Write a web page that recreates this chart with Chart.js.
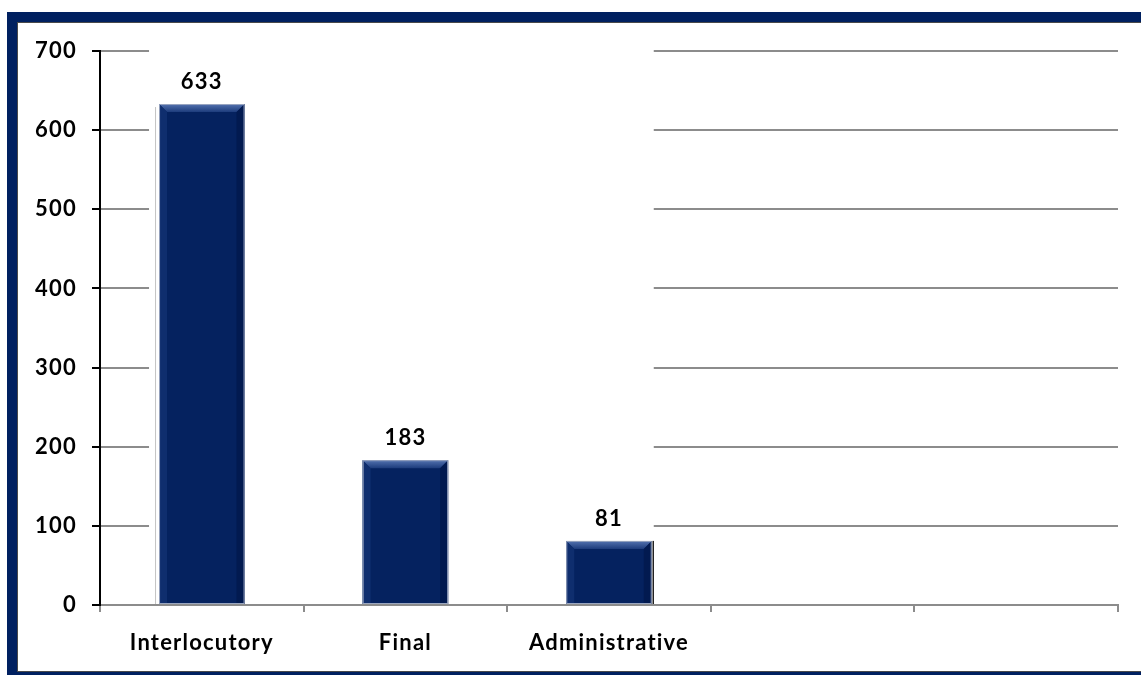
<!DOCTYPE html>
<html>
<head>
<meta charset="utf-8">
<script src="https://cdn.jsdelivr.net/npm/chart.js@4.4.1/dist/chart.umd.min.js"></script>
<style>
html,body{margin:0;padding:0;background:#fff;overflow:hidden;}
#frame{position:absolute;left:7px;top:12px;width:1200px;height:650px;border:10px solid #002060;box-shadow:inset 0 0 0 1px #4a4a4a;}
#wrap{position:absolute;left:0;top:0;width:1141px;height:675px;}
</style>
</head>
<body>
<div id="frame"></div>
<div id="wrap"><canvas id="appeals_chart"></canvas></div>
<script>
// data
var appeal_labels = ['Interlocutory', 'Final', 'Administrative', '', ''];
var appeal_values = [633, 183, 81, null, null];
var y_ticks = [0, 100, 200, 300, 400, 500, 600, 700];

var bar_color = '#05225f';
var grid_color = '#8c8c8c';

// slightly spaced lettering, like the original
var spacingPlugin = {
	id: 'spacing',
	beforeDraw: function(chart) {
		chart.ctx.letterSpacing = '1.2px';
	}
};

// hides the grid behind the bars, like the original
var coverPlugin = {
	id: 'cover',
	beforeDatasetsDraw: function(chart) {
		var bars = chart.getDatasetMeta(0).data.filter(function(b, i) {
			return appeal_values[i] != null;
		});
		if (!bars.length) return;
		var first = bars[0], last = bars[bars.length - 1];
		var left = first.x - first.width / 2 - 10;
		var right = last.x + last.width / 2 + 2;
		var top = chart.chartArea.top - 3;
		var bottom = chart.chartArea.bottom - 2;
		var ctx = chart.ctx;
		ctx.save();
		ctx.fillStyle = '#fff';
		ctx.fillRect(left, top, right - left, bottom - top);
		ctx.restore();
	}
};

// bevel edges and value labels
var bevelPlugin = {
	id: 'bevel',
	afterDatasetsDraw: function(chart) {
		var ctx = chart.ctx;
		var meta = chart.getDatasetMeta(0);
		var shown = [];
		meta.data.forEach(function(el, i) {
			if (appeal_values[i] == null) return;
			shown.push(el);
			var x0 = el.x - el.width / 2, x1 = el.x + el.width / 2;
			var y0 = el.y, y1 = el.base;
			var b = 8;
			ctx.save();
			var g = ctx.createLinearGradient(0, y0, 0, y0 + b);
			g.addColorStop(0, '#5473b0');
			g.addColorStop(1, '#1d3c7c');
			ctx.fillStyle = g;
			ctx.beginPath();
			ctx.moveTo(x0, y0); ctx.lineTo(x1, y0);
			ctx.lineTo(x1 - b, y0 + b); ctx.lineTo(x0 + b, y0 + b);
			ctx.closePath(); ctx.fill();
			ctx.fillStyle = '#0f2e6e';
			ctx.beginPath();
			ctx.moveTo(x0, y0); ctx.lineTo(x0 + b, y0 + b);
			ctx.lineTo(x0 + b, y1); ctx.lineTo(x0, y1);
			ctx.closePath(); ctx.fill();
			ctx.fillStyle = '#021a50';
			ctx.beginPath();
			ctx.moveTo(x1, y0); ctx.lineTo(x1 - b, y0 + b);
			ctx.lineTo(x1 - b, y1); ctx.lineTo(x1, y1);
			ctx.closePath(); ctx.fill();
			ctx.strokeStyle = '#9aa6c0';
			ctx.lineWidth = 1;
			ctx.strokeRect(x0 + 0.5, y0 + 0.5, el.width - 1, y1 - y0 - 1);

			ctx.fillStyle = '#000';
			ctx.font = 'bold 22px Lato';
			ctx.textAlign = 'center';
			ctx.textBaseline = 'alphabetic';
			ctx.fillText(appeal_values[i], el.x, y0 - 15);
			ctx.restore();
		});
		if (shown.length) {
			var f = shown[0], l = shown[shown.length - 1];
			ctx.save();
			ctx.strokeStyle = '#c4c4c4';
			ctx.lineWidth = 1;
			ctx.beginPath();
			ctx.moveTo(f.x - f.width / 2 - 3.5, f.y + 3);
			ctx.lineTo(f.x - f.width / 2 - 3.5, f.base);
			ctx.stroke();
			ctx.strokeStyle = '#222';
			ctx.lineWidth = 1.5;
			ctx.beginPath();
			ctx.moveTo(l.x + l.width / 2 + 1.5, l.y);
			ctx.lineTo(l.x + l.width / 2 + 1.5, l.base);
			ctx.stroke();
			ctx.restore();
		}
	}
};

Chart.defaults.font.family = 'Lato';
Chart.defaults.font.weight = 'bold';
Chart.defaults.font.size = 22;
Chart.defaults.color = '#000';

var ctx = document.getElementById('appeals_chart');
var chart = new Chart(ctx, {
	type: 'bar',
	data: {
		labels: appeal_labels,
		datasets: [{
			data: appeal_values,
			backgroundColor: bar_color,
			borderWidth: 0,
			categoryPercentage: 1,
			barPercentage: 0.42
		}]
	},
	options: {
		responsive: true,
		maintainAspectRatio: false,
		animation: false,
		layout: {
			padding: { top: 51, right: 23, left: 0, bottom: 0 }
		},
		plugins: {
			legend: { display: false },
			title: { display: false },
			tooltip: { enabled: false }
		},
		scales: {
			x: {
				grid: {
					offset: true,
					drawOnChartArea: false,
					tickLength: 7,
					color: grid_color,
					lineWidth: 2
				},
				border: { color: grid_color, width: 2 },
				ticks: { padding: 18, color: '#000' },
				afterFit: function(scale) { scale.height = 70; }
			},
			y: {
				min: 0,
				max: 700,
				afterBuildTicks: function(scale) {
					scale.ticks = y_ticks.map(function(v) { return { value: v }; });
				},
				grid: {
					color: grid_color,
					lineWidth: 2,
					tickColor: '#000',
					tickLength: 8
				},
				border: { color: '#000', width: 2 },
				ticks: { padding: 15, color: '#000' },
				afterFit: function(scale) { scale.width = 100; }
			}
		}
	},
	plugins: [spacingPlugin, coverPlugin, bevelPlugin]
});
</script>
</body>
</html>
